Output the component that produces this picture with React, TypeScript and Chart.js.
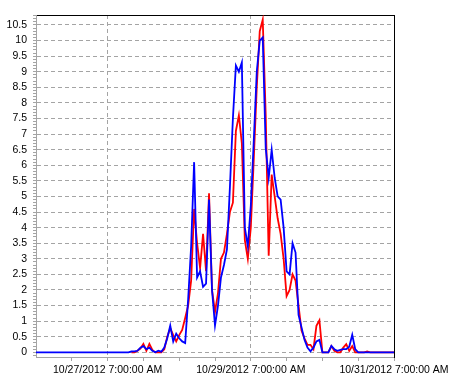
import { useEffect, useRef } from 'react';
import { Chart, registerables } from 'chart.js';

Chart.register(...registerables);

// x categories: hours after 10/26/2012 7:00:00 AM
const HOURS: number[] = Array.from({ length: 121 }, (_, i) => i);

const X_MAJOR_HOURS = [24, 72, 120];
const X_MAJOR_LABELS = ['10/27/2012 7:00:00 AM', '10/29/2012 7:00:00 AM', '10/31/2012 7:00:00 AM'];
const X_TICK_HOURS = [12, 24, 36, 48, 60, 72, 84, 96, 108, 120];

const Y_MIN = -0.15;
const Y_MAX = 10.82;

const BLUE: number[] = [
  0, 0, 0, 0, 0, 0, 0, 0, 0, 0, 0, 0, 0, 0, 0, 0,
  0, 0, 0, 0, 0, 0, 0, 0, 0, 0, 0, 0, 0, 0, 0, 0,
  0.03, 0.03, 0.05, 0.15, 0.2, 0.1, 0.15, 0.05, 0, 0.05, 0.02, 0.15, 0.45, 0.86, 0.35, 0.6,
  0.45, 0.35, 0.3, 1.7, 3.4, 6.1, 2.4, 2.6, 2.1, 2.2, 4.9, 2.0, 0.86, 1.5, 2.4, 2.8,
  3.3, 5.3, 7.5, 9.2, 9.0, 9.3, 4.0, 3.4, 4.7, 6.8, 9.0, 10.0, 10.1, 6.55, 5.6, 6.5,
  5.6, 5.0, 4.9, 4.0, 2.6, 2.5, 3.5, 3.2, 1.2, 0.8, 0.4, 0.15, 0.03, 0.15, 0.35, 0.4,
  0, 0, 0, 0.21, 0.1, 0.05, 0.08, 0.1, 0.1, 0.18, 0.56, 0.1, 0, 0, 0, 0,
  0, 0, 0, 0, 0, 0, 0, 0, 0,
];

const RED: (number | null)[] = [
  null, null, null, null, null, null, null, null, null, null, null, null, null, null, null, null,
  null, null, null, null, null, null, null, null, null, null, null, null, null, null, null, null,
  0, 0, 0.05, 0.12, 0.27, 0.05, 0.27, 0.08, 0, 0, 0, 0.1, 0.5, 0.77, 0.55, 0.35,
  0.55, 0.72, 1.1, 1.5, 2.3, 4.6, 3.5, 2.7, 3.8, 2.6, 5.1, 2.0, 1.3, 1.9, 3.0, 3.2,
  3.8, 4.5, 4.8, 7.1, 7.6, 6.7, 3.6, 3.0, 4.0, 6.2, 8.5, 10.3, 10.67, 7.6, 3.1, 5.7,
  5.0, 4.3, 3.8, 3.0, 1.8, 2.0, 2.5, 2.3, 1.5, 0.7, 0.45, 0.24, 0.24, 0.1, 0.85, 1.03,
  0, 0, 0, 0.2, 0.05, 0, 0, 0.15, 0.26, 0.05, 0.2, 0, 0, 0, 0, 0.03,
  0, 0, 0, 0, 0, 0, 0, 0, 0,
];

const FONT = { family: '"Liberation Sans", Arial, sans-serif', size: 10.5 };
const GRID = '#a4a4a4';

function isHalf(v: number) {
  return Math.abs(v * 2 - Math.round(v * 2)) < 1e-6;
}

export default function App() {
  const ref = useRef<HTMLCanvasElement | null>(null);

  useEffect(() => {
    if (!ref.current) return;
    const yTickVals: number[] = [];
    for (let i = -1; i <= 108; i++) yTickVals.push(i / 10);

    const chart = new Chart(ref.current, {
      type: 'line',
      data: {
        labels: HOURS,
        datasets: [
          {
            data: BLUE,
            borderColor: '#0000ff',
            borderWidth: 1.8,
            pointRadius: 0,
            tension: 0,
            fill: false,
          },
          {
            data: RED,
            borderColor: '#ff0000',
            borderWidth: 1.8,
            pointRadius: 0,
            tension: 0,
            fill: false,
            spanGaps: false,
          },
        ],
      },
      options: {
        animation: false,
        responsive: true,
        maintainAspectRatio: false,
        layout: { padding: { top: 15, right: 59, bottom: 0, left: 0 } },
        plugins: { legend: { display: false }, tooltip: { enabled: false } },
        scales: {
          x: {
            type: 'linear',
            min: 0,
            max: 120,
            afterBuildTicks: (axis: any) => {
              axis.ticks = X_TICK_HOURS.map((v) => ({ value: v }));
            },
            afterFit: (axis: any) => {
              axis.height = 23;
            },
            ticks: {
              autoSkip: false,
              maxRotation: 0,
              minRotation: 0,
              padding: 3,
              color: '#000',
              font: FONT,
              callback: (v: any) => {
                const i = X_MAJOR_HOURS.indexOf(Number(v));
                return i >= 0 ? X_MAJOR_LABELS[i] : '';
              },
            },
            grid: {
              color: (ctx: any) => {
                const v = ctx.tick ? ctx.tick.value : -1;
                return v === 24 || v === 72 ? GRID : 'rgba(0,0,0,0)';
              },
              tickColor: GRID,
              tickLength: 4,
              tickBorderDash: [],
              lineWidth: 1,
            },
            border: { display: true, color: GRID, dash: [4, 3] },
          },
          x2: {
            type: 'linear',
            position: 'top',
            min: 0,
            max: 120,
            ticks: { display: false },
            grid: { display: false, drawTicks: false },
            border: { display: true, color: '#000', width: 1 },
          },
          y: {
            type: 'linear',
            min: Y_MIN,
            max: Y_MAX,
            afterBuildTicks: (axis: any) => {
              axis.ticks = yTickVals.map((v) => ({ value: v }));
            },
            afterFit: (axis: any) => {
              axis.width = 36;
            },
            ticks: {
              autoSkip: false,
              padding: 6,
              color: '#000',
              font: FONT,
              callback: (v: any) => {
                const n = Number(v);
                if (n < 0 || !isHalf(n)) return '';
                return String(Math.round(n * 2) / 2);
              },
            },
            grid: {
              color: (ctx: any) => {
                const v = ctx.tick ? ctx.tick.value : -1;
                return v >= 0 && isHalf(v) ? GRID : 'rgba(0,0,0,0)';
              },
              tickColor: GRID,
              tickLength: 3,
              tickBorderDash: [],
              lineWidth: 1,
            },
            border: { display: true, color: GRID, dash: [4, 3] },
          },
          y2: {
            type: 'linear',
            position: 'right',
            min: Y_MIN,
            max: Y_MAX,
            ticks: { display: false },
            grid: { display: false, drawTicks: false },
            border: { display: true, color: '#000', width: 1 },
          },
        },
      } as any,
    });
    return () => chart.destroy();
  }, []);

  return (
    <div style={{ position: 'absolute', left: 0, top: 0, width: 453, height: 380, background: '#fff' }}>
      <canvas ref={ref} />
    </div>
  );
}
